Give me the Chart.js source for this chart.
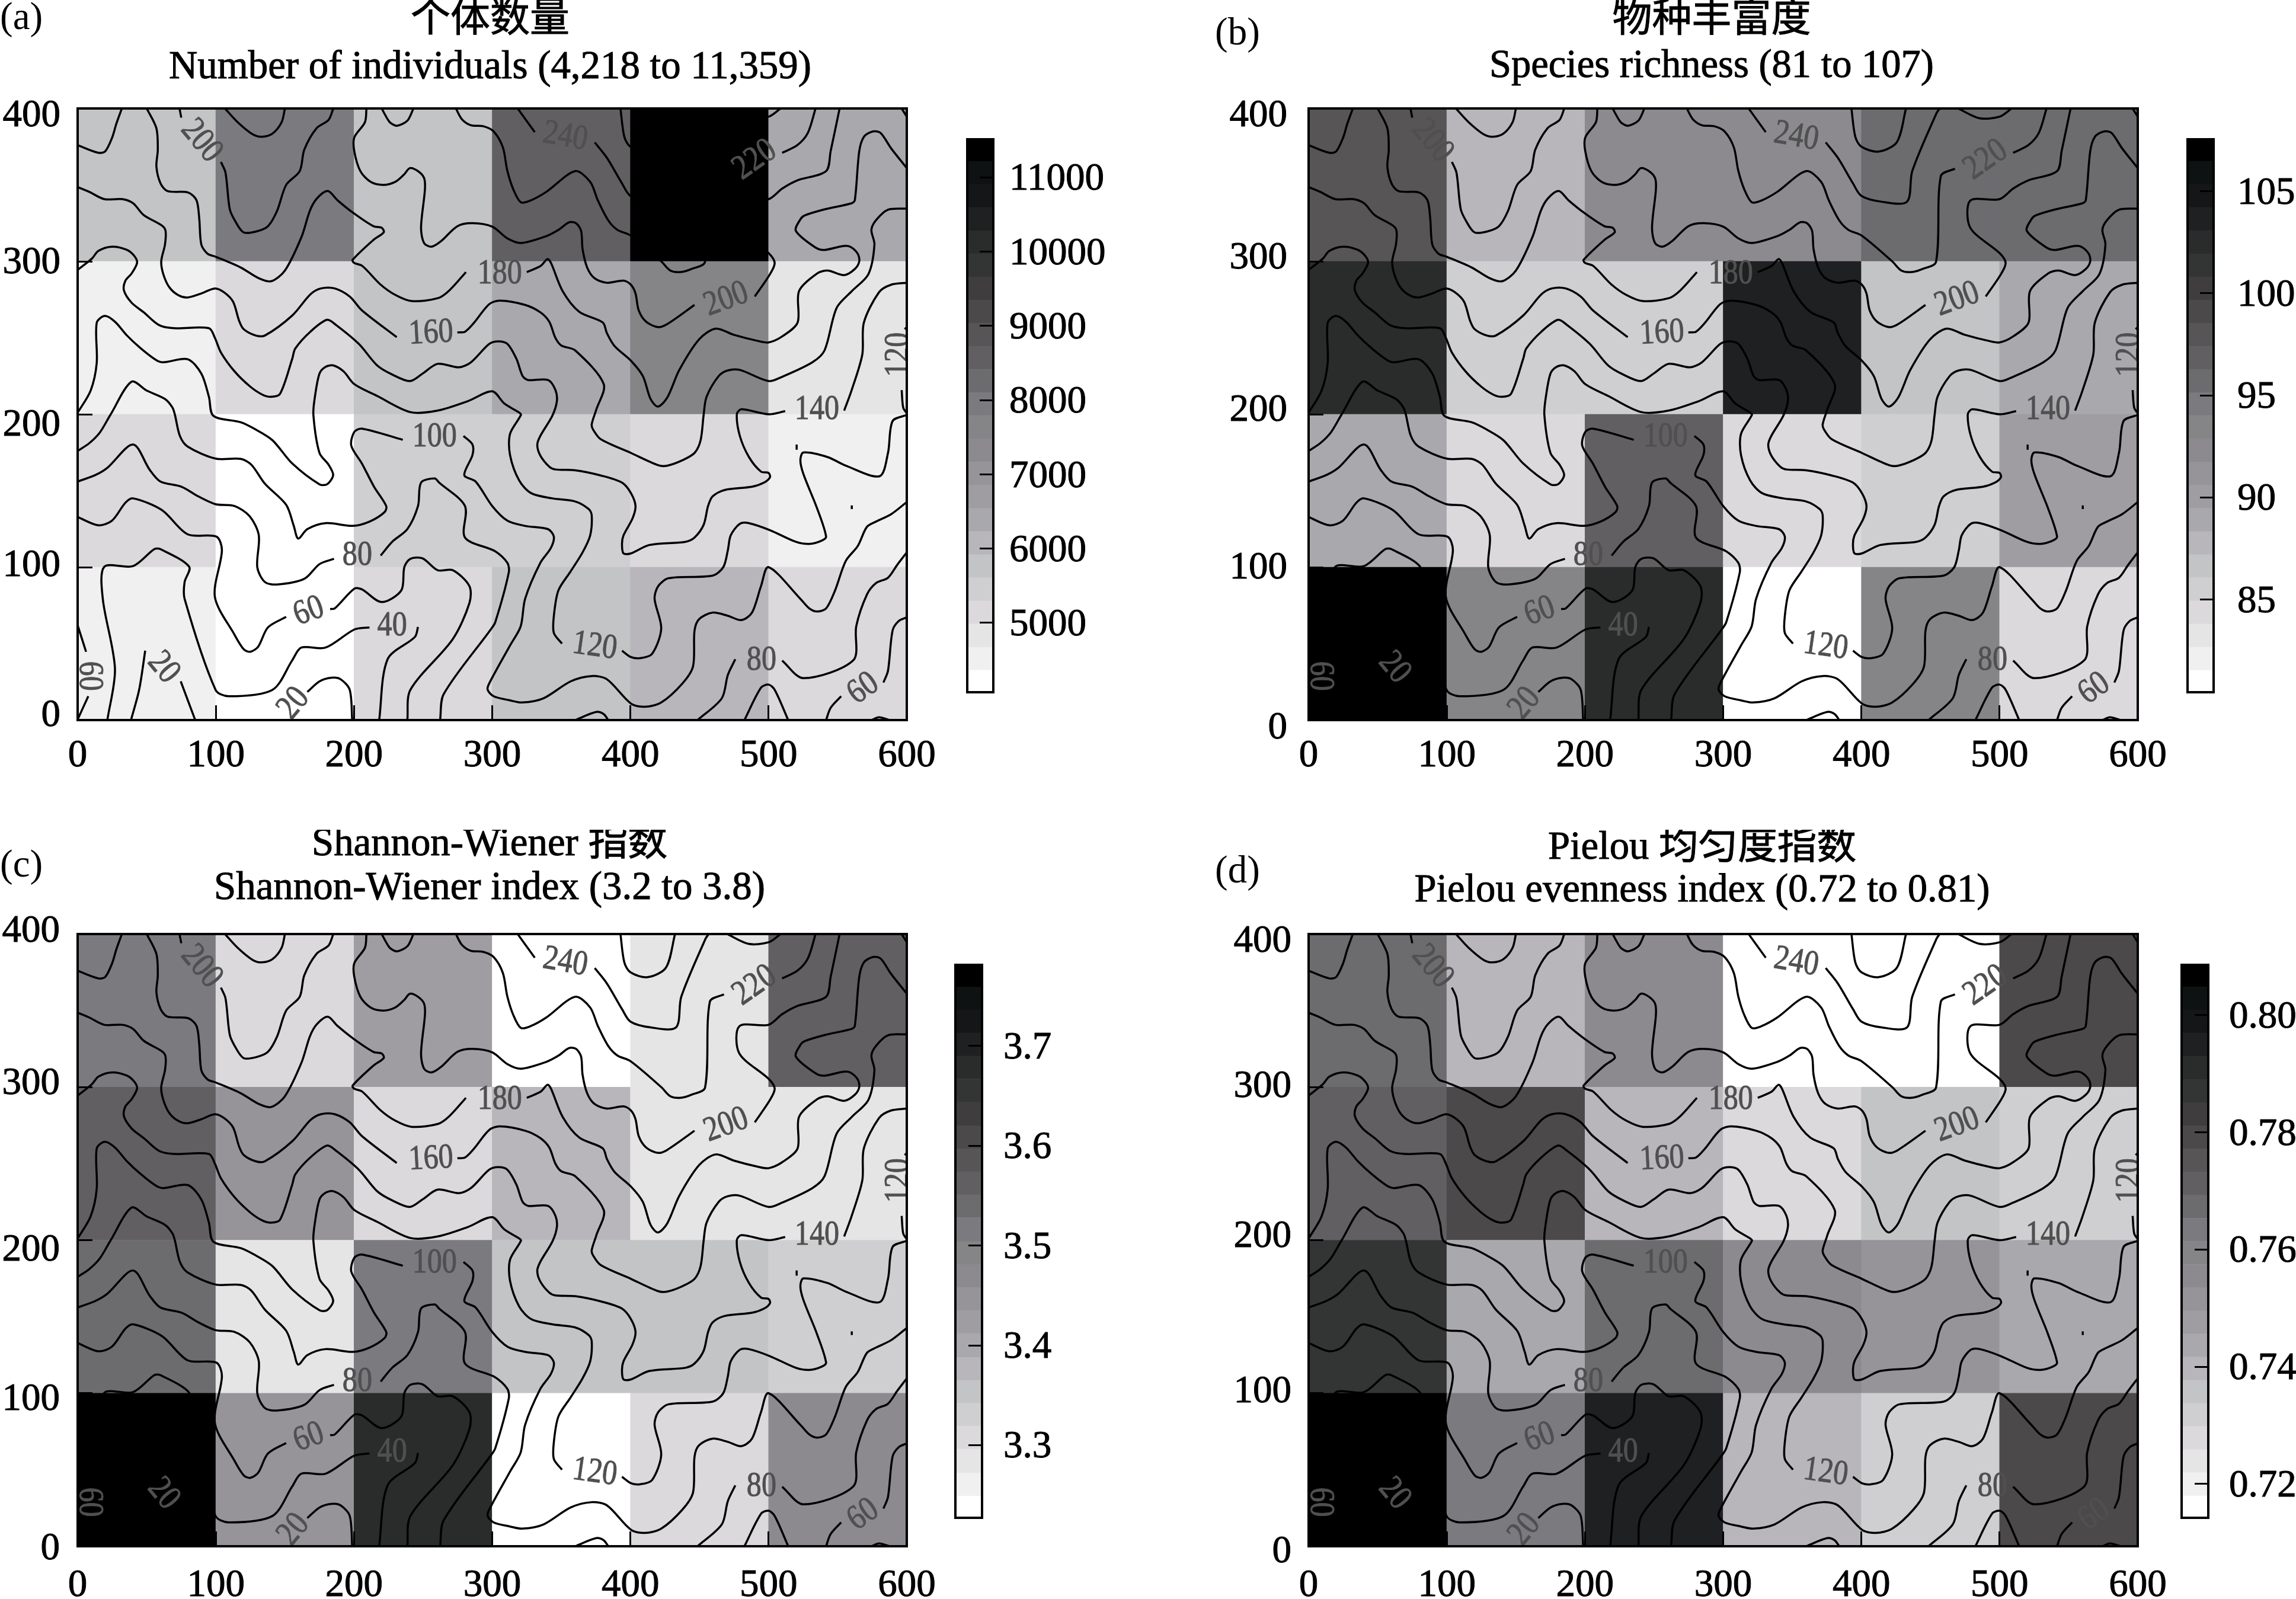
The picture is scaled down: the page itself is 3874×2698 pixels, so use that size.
<!DOCTYPE html>
<html>
<head>
<meta charset="utf-8">
<title>Quadrat diversity maps</title>
<script src="https://cdn.jsdelivr.net/npm/chart.js@4/dist/chart.umd.min.js"></script>
<style>
html, body { margin: 0; padding: 0; background: #fff; }
#page { position: relative; width: 3874px; height: 2698px; overflow: hidden; }
canvas { position: absolute; }
</style>
</head>
<body>
<div id="page"></div>
<script>
// axis ticks
const xTicks = [0, 100, 200, 300, 400, 500, 600];
const yTicks = [0, 100, 200, 300, 400];
const colCenters = [50, 150, 250, 350, 450, 550];
const rowCenters = [350, 250, 150, 50];

// quadrat values, rows top to bottom
const cellsA = [
  [5760, 7950, 5760, 8570, 11359, 6390],
  [4520, 5140, 5760, 6390, 7630, 4830],
  [5140, 4218, 5450, 5450, 5140, 4520],
  [4520, 4218, 5140, 5760, 6080, 5140]
];
const cellsB = [
  [98, 87.8, 92.3, 92.3, 95.7, 95.7],
  [102.5, 85.5, 85.5, 103.6, 86.6, 88.9],
  [88.9, 84.4, 96.8, 84.4, 85.5, 90],
  [107, 93.4, 102.5, 81, 93.4, 84.4]
];
const cellsC = [
  [3.516, 3.307, 3.423, 3.24, 3.284, 3.562],
  [3.562, 3.446, 3.307, 3.377, 3.284, 3.284],
  [3.539, 3.284, 3.516, 3.354, 3.354, 3.33],
  [3.771, 3.446, 3.678, 3.24, 3.307, 3.47]
];
const cellsD = [
  [0.7674, 0.7397, 0.7555, 0.716, 0.716, 0.7793],
  [0.7714, 0.7793, 0.7397, 0.7279, 0.7358, 0.7318],
  [0.7872, 0.7437, 0.7674, 0.7555, 0.7516, 0.7437],
  [0.8069, 0.7634, 0.7951, 0.7397, 0.7318, 0.7793]
];

// colour bar bands, light to dark
const bandGrays = ['#ffffff', '#f0f0f0', '#e6e5e6', '#dbd9dc', '#cfcfd1', '#c3c4c6', '#b8b6bb', '#a9a8ad',
  '#9f9da2', '#969499', '#8c8a8f', '#858487', '#7b7a7f', '#6c6b6e', '#625f62', '#575556',
  '#4b494a', '#3f3d3d', '#323534', '#2a2c2b', '#1e2021', '#151618', '#0e1212', '#000000'];
const edgesA = [4050, 4362, 4673, 4985, 5297, 5608, 5920, 6232, 6543, 6855, 7167, 7478, 7790, 8102, 8413, 8725, 9037, 9348, 9660, 9972, 10283, 10595, 10907, 11218, 11530];
const edgesB = [80.4, 81.53, 82.67, 83.8, 84.93, 86.07, 87.2, 88.33, 89.47, 90.6, 91.73, 92.87, 94, 95.13, 96.27, 97.4, 98.53, 99.67, 100.8, 101.93, 103.07, 104.2, 105.33, 106.47, 107.6];
const edgesC = [3.226, 3.249, 3.272, 3.296, 3.319, 3.342, 3.365, 3.388, 3.412, 3.435, 3.458, 3.481, 3.504, 3.528, 3.551, 3.574, 3.597, 3.62, 3.644, 3.667, 3.69, 3.713, 3.736, 3.759, 3.7825];
const edgesD = [0.714, 0.71795, 0.7219, 0.72585, 0.7298, 0.73375, 0.7377, 0.74165, 0.7456, 0.74955, 0.7535, 0.75745, 0.7614, 0.76535, 0.7693, 0.77325, 0.7772, 0.78115, 0.7851, 0.78905, 0.793, 0.79695, 0.8009, 0.80485, 0.8088];
const barTicksA = [5000, 6000, 7000, 8000, 9000, 10000, 11000];
const barTicksB = [85, 90, 95, 100, 105];
const barTicksC = [3.3, 3.4, 3.5, 3.6, 3.7];
const barTicksD = [0.72, 0.74, 0.76, 0.78, 0.80];
const barLabelsA = ['5000', '6000', '7000', '8000', '9000', '10000', '11000'];
const barLabelsB = ['85', '90', '95', '100', '105'];
const barLabelsC = ['3.3', '3.4', '3.5', '3.6', '3.7'];
const barLabelsD = ['0.72', '0.74', '0.76', '0.78', '0.80'];

// elevation contours as [x, y] in metres, one array per unbroken piece
const topLeft = [[0,376],[15,371],[20,372],[25,381],[28,390],[32,400]];
const c180a = [[50,400],[57,387],[58,373],[57,362],[60,351],[65,346],[80,345],[86,340],[88,328],[89.5,311],[94,305],[100,303],[118,296],[131,289],[140,287],[150,294],[162,316],[168,333],[173,341],[181,346],[188,340],[199,332],[214,323],[220,322],[221.5,319],[214,314],[199,301],[200,299],[206,297],[219,285],[230,278],[242,274],[261,276],[269,281],[281,293]];
const c180b = [[325,293],[335,297],[340,301.5],[342.5,299],[351,280.5],[363,267],[380,260],[383,253],[388.5,244.6],[400.4,235],[409,225],[414.6,210],[420,205],[426.7,211],[435.4,229],[449.7,249],[461.7,256],[474.8,252],[492,248],[500,247],[510,251],[521,260],[522,280.5],[535,292],[542.7,294],[554.7,291],[562.4,295],[565.6,300],[564.5,305],[559,309.6],[553.6,310],[540.5,307.5],[534,309],[519.7,320],[523,327.5],[526,330],[540.5,334],[560,338],[562.4,340],[565.6,372],[569,381.5],[575.5,385],[581,384],[588.6,374],[600,361]];
const c200topA = [[73.7,400],[75,394]];
const c200topB = [[103.7,365],[107,358],[110,334.5],[113.6,327],[120,319],[129,319.5],[137.7,323],[144.3,333],[150.9,350],[160.7,359],[164,373],[172.8,387],[181.6,392.5],[185,400]];
const c220top = [[106.6,400],[115.8,391],[126.8,383],[133.3,381.5],[141,383.6],[147.6,391],[150,400]];
const c200a = [[209,400],[207.9,391],[200.2,381],[200.2,372],[204.6,359],[212,352],[221,350],[229.8,352],[236.4,357],[240.4,361],[246.3,359],[250.7,354.5],[251.3,347],[248.5,322],[250.7,312],[256,309.6],[262.7,313],[274.8,323],[285.7,325],[300,322.7],[311,315],[320.8,312],[339.2,316.5],[348,320.6],[355.6,325.5],[360.6,325],[364.3,320],[365.4,308],[368.7,296],[374,289],[383,286],[395,287.4],[400.4,284.7],[403.7,279],[406,268],[411.4,260.5],[420,257],[426.7,259],[446.4,271.5]];
const c200b = [[490,277],[501,291.6],[504.4,299],[500,305.4],[478.8,322],[478.8,339.7],[500,340.7],[509.8,347.6],[520.8,353],[541.6,359],[544.9,372],[551.4,400]];
const c200c = [[273.7,400],[278,393],[284.6,389],[293.4,388.4],[301,385],[307.7,374.6],[310.9,359.4],[315.3,347],[320.8,338.6],[328.2,340],[339.2,345.5],[360,359],[370.9,352],[376.4,340],[384,326.8],[390.6,320.6],[400,317],[422.3,300],[428.9,294],[436.5,293],[444.2,295],[454,299.6],[457.5,355.8],[467.7,360.6]];
const c240a = [[318.4,400],[330.8,384.5]];
const c240b = [[374.2,377.8],[383,367.7],[393.9,351],[400,342.8],[414.6,339],[433,339],[436.8,359],[454.4,397],[456.7,400]];
const c220a = [[392.8,400],[395.6,381.5],[400,375],[412.4,371.8],[425.7,378],[432.3,400]];
const c220b = [[509.8,371],[520.8,376],[528.4,384],[534,400]];
const topRightA = [[470,400],[485.4,393.6],[500,394.6],[508.7,400]];
const topRightB = [[596.3,400],[600,394.6]];
const topBump = [[220,400],[224.3,393],[226.5,390.5],[231,388.7],[238.6,392],[243,400]];
const c140a = [[0,294.4],[10.5,302],[14.9,306.8],[24.8,309.6],[35.7,307.5],[41.2,303.3],[43,299],[39,292],[34.6,287.4],[33.5,281],[39,273],[47.8,266.7],[58.8,258.4],[69.7,256.3],[95,256.3],[99.3,250],[103.7,240.4],[113.6,228],[124.6,218.3],[133.3,213],[139.9,211.4],[146.5,213.4],[155.3,236.3],[157.5,243],[168.4,254],[180.5,261.8],[187,258.4],[203.5,246],[216.7,232],[227.6,226],[240.4,221.7],[249.6,226.6],[260.5,233],[275.9,230.7],[284.6,234],[297.8,246],[304.4,247.7],[311,246],[317.5,236.3],[322,225],[326,222.4],[340.3,222.4],[345.7,216],[346.8,208.6],[343.5,199],[334.8,185.8],[332.6,180],[334.8,173],[341.3,165.7],[345.7,163.9],[360,163.4],[378.5,160],[393.9,155.3],[400.4,148.4],[403.7,140],[401.5,131.8],[395,120.8],[393.9,115.2],[395,109],[400.4,109],[413.6,114.5],[439.8,116.6],[446.4,119.4],[453,127.7],[456.2,140],[459.5,146.3],[468.3,150.5],[488,152.6],[496.7,155.3],[501,158.8],[500,161.6],[494.5,162.5],[485.8,172],[479.2,185.8],[477,200],[480.3,203.3],[500,200],[512,202]];
const c140b = [[554.7,202.4],[560,215.5],[567.8,239],[568.9,259.8],[579.9,279.8],[588.6,284.7],[600,286]];
const c160a = [[0,348.6],[8.3,345.5],[19.3,340.7],[32.4,340.7],[40.1,338],[47.8,330.3],[61,323.4],[63.6,320],[63.2,311],[60.5,300],[62,291.6],[66.4,283],[73,277.8],[79.6,276.4],[89.5,279],[99.3,282.3],[105.9,279.8],[112.5,273.6],[116.9,261],[120.2,255.6],[128.9,251.5],[135.5,251.5],[155.3,264.6],[168.4,278.4],[176.1,282.3],[186,282.3],[196.9,277],[205.7,268],[230.9,250.4]];
const c160b = [[274.8,253.5],[280.3,254],[286.8,259.8],[297.8,272],[305.5,274.3],[323.8,271.5],[334.8,266.7],[341.3,260.5],[345.7,250],[350,245],[360,241.8],[380.7,219.7],[375.3,203],[372,193.4],[373,190],[378.5,183.7],[400.4,174.7],[420,166.7],[426.7,166.4],[437.6,169.9],[446.4,174.7],[450.8,183],[453,199.6],[455.1,211.4],[463.9,225],[470.5,228.7],[479.2,229],[500,221.7],[509.8,224.5],[531.7,234],[540.5,241.8],[549.2,269.5],[560.2,280.5],[572.2,291.6],[576.6,311],[574.4,320.6],[577.7,326.9],[586.4,333.8],[600,334.5]];
const c120a = [[0,201],[9.4,215.5],[13.8,233.5],[13.8,259.8],[19.7,264.3],[27,260.5],[35.7,251.5],[45.6,243.2],[56.6,235.6],[62,234],[79.6,236],[89.5,226.6],[95,211.4],[98.2,199],[117.9,194.8],[128.9,190],[141,183],[155.3,167.8],[175,154.2],[180.5,154.2],[184.9,160.2],[181.6,167],[175,174.7],[170.6,199.6],[171.7,211.4],[175,226.6],[179.4,231],[184.9,232],[192.5,228],[200.2,219.7],[216.7,212],[240.8,201.4],[260.5,202.4],[282.4,208.6],[300,215],[308.8,207],[319.7,201],[320.8,199.6],[312.9,187.2],[312.9,173.3],[319.5,156.7],[328.2,148.4],[343.5,145],[360,143],[369.8,138],[372,133.9],[370.9,120.8],[365.4,109.7],[356.7,97.2],[347.9,84.8],[344.6,68],[344.6,57],[350.5,50]];
const c120b = [[393.9,45.4],[400.4,41.2],[407,40.5],[415.7,43.3],[422.3,59.9],[417.5,79.3],[420.1,87.6],[427.8,92.8],[459.5,94.5],[467.2,100],[470.5,111],[472.6,120.8],[479.2,128.4],[485.8,128.8],[501,124.2],[519.7,116.6],[529.5,115.2],[538.3,117.3],[541.6,120],[535,138.7],[525.2,160.9],[523,169.9],[525.2,175],[542.7,172],[555.8,166.4],[580.3,159.5],[586.4,174.7],[589.7,195.5],[600,199.6]];
const c100a = [[0,176],[8.3,181],[16,188],[23.7,199.6],[39,221.3],[50,215.5],[63.2,210],[68.6,204.4],[70.4,199.6],[74,185.8],[79.6,178.9],[99.8,171],[118,170.8],[125.7,167],[135.5,154.6],[150.9,140.8],[156.4,127],[159.6,118.7],[166.2,124.9],[179.4,128.8],[199.1,127],[211.2,129.8],[222.1,136],[223.3,140],[214.5,152.6],[205.7,167.8],[198,179.5],[200.2,188.5],[205.7,190.6],[235.3,183.3]];
const c100b = [[279.2,185.8],[285.7,180.2],[285.7,173.3],[279.8,160.2],[288,156],[300,140],[311,130.4],[323.8,127],[340.3,124.9],[344.6,120],[342.4,112.5],[334.8,102.8],[323.8,79.3],[320.6,61.3],[312.9,48.8],[297.8,23.9],[296.7,19.8],[301,15.6],[312.9,12.9],[321.6,11.5],[337,14.2],[356.7,25.3],[372,28.8],[383,26.7],[400.4,10.8],[410.3,8.7],[422.3,11.5],[437.6,23.9],[445.3,35],[446.4,58.5],[449.7,66],[459.5,70.3],[470.5,68.2],[480.3,65.4],[488,70.3],[494.5,87.6],[500,100],[523,79.3],[529.5,73],[535,71],[541.6,73],[548.1,84.8],[555.8,104],[564.5,113.8],[571.1,126.3],[577.7,129.8],[588.6,134.6],[600,142.6]];
const c80a = [[0,156],[12.7,160.2],[21.5,165],[40.1,180.2],[52.2,163.6],[59.9,156],[75.2,152.6],[87.3,146.3],[99.8,141.2],[113.6,140],[124.6,133.2],[131.1,120.8],[130,100],[135.5,90.3],[144.3,88.7],[164,92.4],[175,102],[185.5,105.5]];
const c80b = [[219.3,107.6],[227.6,116.6],[238.6,124.9],[246.3,140],[248.5,155.3],[258.3,158],[261.6,155.3],[280.3,140],[280.3,119.4],[302.2,110.4],[311,102.8],[312,96.6],[302.2,64],[298.9,59.2],[264.9,17],[262.3,0]];
const c60a = [[0,132.8],[14.9,127.4],[24.8,130.4],[34.6,142.2],[40.1,145],[60.9,137.4],[79.6,121.5],[100.4,120],[104.4,111],[99.3,80.6],[113.6,55.7],[120.2,46.3],[125,44.7],[130.7,48.1],[137.7,60.6],[150.9,67.5]];
const c60b = [[182.7,72.6],[186,73],[200.2,85.9],[205.7,85.5],[219.9,77.2],[234.2,84.8],[236.4,100],[240.8,105.5],[249.6,105.8],[260.5,98],[271.5,98],[283.5,87.6],[283.5,76.5],[271.5,53],[240.8,19.8],[238.6,0]];
const c40a = [[21.5,0],[27,33.6],[18.2,79.3],[19.3,100.3],[40.1,100.7],[55.5,111.8],[59.9,111.8],[80.7,100.3],[77.4,90.3],[77.4,79.3],[99.8,19.8],[109.2,15.6],[141,19.8],[155.3,39.1],[161.8,47.4],[179.4,47.4],[200.2,59.2],[211.2,60.6]];
const c40b = [[246.3,60.9],[244.1,54.4],[224.3,39.8],[218.2,0]];
const c60leftA = [[0,62],[6.1,44.7]];
const c60leftB = [[7.7,15.6],[0,0.4]];
const c20a = [[48.9,45.4],[44.5,19.8],[38.6,0]];
const c20b = [[74.6,25.3],[85.1,0]];
const c20d = [[166.2,18.4],[175,25.3],[183.8,27.7],[190.3,26.7],[196.9,19.8],[198.7,0]];
const bottomBump = [[360,0],[375.3,5.3],[380.7,3.9],[384,0]];
const c80rightA = [[448.6,0],[466.1,14.2],[470.5,29.5],[475.9,39.8]];
const c80rightB = [[509.8,38.9],[525.2,27.4],[561.3,39.1],[563.4,61.3],[571.1,82],[577.7,89.6],[586.4,93.1],[593,101.4],[600,109.7]];
const peak500 = [[482.5,0],[494.5,21.2],[500,23.2],[504.4,19.8],[514.2,0]];
const c60rightA = [[541.6,0],[544.9,8],[552.5,15.6]];
const c60rightB = [[583.1,24.6],[586.4,32.2],[589.7,58.5],[594.1,64.7],[600,67.2]];
const bottomRight = [[574.4,0],[579.9,1.8],[587.5,0]];
const dot1 = [[520.3,180.2],[520.3,176.8]];
const dot2 = [[560.2,140.4],[560.2,138]];
const c120rightA = [[596.3,215.8],[597.4,204.4],[600,200.6]];
const c120rightB = [[598.5,255.6],[600,257]];
const contours = [topLeft, c180a, c180b, c200topA, c200topB, c220top, c200a, c200b, c200c, c240a, c240b, c220a, c220b,
  topRightA, topRightB, topBump, c140a, c140b, c160a, c160b, c120a, c120b, c100a, c100b, c80a, c80b, c60a, c60b,
  c40a, c40b, c60leftA, c60leftB, c20a, c20b, c20d, bottomBump, c80rightA, c80rightB, peak500, c60rightA,
  c60rightB, bottomRight, dot1, dot2, c120rightA, c120rightB];

// contour labels: text, x, y, angle
const contourLabels = [
  ['200', 89.5, 378.7, 50], ['180', 305.5, 291.6, 0], ['160', 255.7, 252.9, -3], ['240', 352.9, 381.5, 10],
  ['220', 490.1, 366.3, -35], ['200', 469.4, 275, -20], ['140', 535, 203, 0], ['120', 594, 239, -90],
  ['100', 258.3, 185, 0], ['80', 202.4, 107.6, 0], ['60', 167.3, 71, -20], ['40', 227.6, 61.3, 0],
  ['20', 62, 34.3, 50], ['60', 8.3, 28.8, 90], ['20', 156.4, 10.8, -50], ['120', 374.2, 48.1, 8],
  ['80', 494.9, 39.1, 0], ['60', 568.5, 20.5, -35]
];

const serif = '"Liberation Serif", "Noto Sans CJK SC"';
const page = document.getElementById('page');

function addCanvas(left, top, width, height) {
  const c = document.createElement('canvas');
  c.width = width;
  c.height = height;
  c.style.left = left + 'px';
  c.style.top = top + 'px';
  c.style.width = width + 'px';
  c.style.height = height + 'px';
  page.appendChild(c);
  return c;
}

function grayFor(value, edges) {
  let i = 0;
  while (i < bandGrays.length - 1 && value >= edges[i + 1]) i++;
  return bandGrays[i];
}

// axis boxes get a fixed size so the plot area lands where the figure has it
function fixAxis(s, key, size) {
  s[key] = size;
  s.paddingLeft = s.paddingRight = s.paddingTop = s.paddingBottom = 0;
}

const frame = {
  id: 'frame',
  afterDraw(chart, args, opts) {
    const a = chart.chartArea, ctx = chart.ctx;
    ctx.save();
    ctx.strokeStyle = '#000';
    ctx.lineWidth = 4;
    const ins = opts.inset || 0;
    ctx.strokeRect(a.left + ins, a.top + ins, a.right - a.left - 2 * ins, a.bottom - a.top - 2 * ins);
    ctx.restore();
  }
};

const contourText = {
  id: 'contourText',
  afterDatasetsDraw(chart) {
    const ctx = chart.ctx, a = chart.chartArea;
    ctx.save();
    ctx.beginPath();
    ctx.rect(a.left, a.top, a.right - a.left, a.bottom - a.top);
    ctx.clip();
    ctx.fillStyle = '#505050';
    ctx.strokeStyle = '#505050';
    ctx.lineWidth = 1;
    ctx.font = '59px ' + serif;
    ctx.textAlign = 'center';
    ctx.textBaseline = 'middle';
    contourLabels.forEach(l => {
      ctx.save();
      ctx.translate(chart.scales.x.getPixelForValue(l[1]), chart.scales.y.getPixelForValue(l[2]));
      ctx.rotate(l[3] * Math.PI / 180);
      ctx.scale(0.85, 1);
      ctx.fillText(l[0], 0, 0);
      ctx.strokeText(l[0], 0, 0);
      ctx.restore();
    });
    ctx.restore();
  }
};

const panelText = {
  id: 'panelText',
  afterDraw(chart, args, opts) {
    const ctx = chart.ctx;
    ctx.save();
    ctx.fillStyle = '#000';
    ctx.strokeStyle = '#000';
    ctx.lineWidth = 1;
    ctx.textBaseline = 'middle';
    ctx.textAlign = 'left';
    ctx.font = '65px ' + serif;
    ctx.fillText(opts.tag, opts.tagX, opts.tagY);
    ctx.textAlign = 'center';
    ctx.font = '67px ' + serif;
    opts.lines.forEach(l => {
      ctx.fillText(l[0], opts.titleX, l[1], l[2]);
      ctx.strokeText(l[0], opts.titleX, l[1], l[2]);
    });
    ctx.restore();
  }
};

// tick labels sit a little off their ticks in the figure
const nudgeLabels = {
  id: 'nudgeLabels',
  afterUpdate(chart, args, opts) {
    chart.scales.y.getLabelItems().forEach((it, i) => {
      it.options.translation[1] += opts.y ? opts.y[i] : opts.all;
    });
  }
};

const tickFont = { family: serif, size: 65 };

function drawPanel(p) {
  const L = p.left, T = p.top;
  const cells = [];
  const grays = [];
  p.cells.forEach((row, r) => row.forEach((v, c) => {
    cells.push({ x: colCenters[c], y: [rowCenters[r] - 50, rowCenters[r] + 50] });
    grays.push(grayFor(v, p.edges));
  }));
  const lines = contours.map(pts => ({
    type: 'line',
    data: pts.map(q => ({ x: q[0], y: q[1] })),
    borderColor: '#000',
    borderWidth: 3.5,
    pointRadius: 0,
    tension: 0.3,
    order: 1
  }));
  new Chart(addCanvas(L, T, p.width, p.height), {
    type: 'bar',
    data: {
      datasets: [{ data: cells, backgroundColor: grays, barPercentage: 1, categoryPercentage: 1, order: 2 }].concat(lines)
    },
    options: {
      responsive: false,
      animation: false,
      devicePixelRatio: 1,
      layout: {
        autoPadding: false,
        padding: { left: 0, top: p.plot[1] - T, right: L + p.width - p.plot[2], bottom: 0 }
      },
      scales: {
        x: {
          type: 'linear', min: 0, max: 600, offset: false,
          afterBuildTicks: s => { s.ticks = xTicks.map(v => ({ value: v })); },
          afterFit: s => fixAxis(s, 'height', T + p.height - p.plot[3]),
          ticks: { autoSkip: false, maxRotation: 0, padding: p.xPad, color: '#000', font: tickFont, textStrokeColor: '#000', textStrokeWidth: 1 },
          grid: { offset: false, drawOnChartArea: false, tickLength: -25, tickWidth: 3, tickColor: '#000', z: 1 },
          border: { display: false }
        },
        y: {
          type: 'linear', min: 0, max: 400,
          afterBuildTicks: s => { s.ticks = yTicks.map(v => ({ value: v })); },
          afterFit: s => fixAxis(s, 'width', p.plot[0] - L),
          ticks: { padding: p.yPad, color: '#000', font: tickFont, textStrokeColor: '#000', textStrokeWidth: 1 },
          grid: { drawOnChartArea: false, tickLength: -25, tickWidth: 3, tickColor: '#000', z: 1 },
          border: { display: false }
        }
      },
      plugins: {
        legend: { display: false },
        tooltip: { enabled: false },
        frame: {},
        nudgeLabels: { y: p.nudge },
        panelText: {
          tag: p.tag, tagX: p.tagAt[0] - L, tagY: p.tagAt[1] - T, titleX: p.titleX - L,
          lines: p.title.map(l => [l[0], l[1] - T, l[2]])
        }
      }
    },
    plugins: [frame, contourText, panelText, nudgeLabels]
  });
  drawColorBar(p);
}

function drawColorBar(p) {
  const b = p.bar;
  const L = b.area[0] - 30, T = b.area[1] - 30;
  const W = Math.min(300, 3874 - L), H = b.area[3] - b.area[1] + 60;
  const bands = bandGrays.map((g, i) => ({
    data: [[p.edges[i], p.edges[i + 1]]],
    backgroundColor: g,
    barPercentage: 1,
    categoryPercentage: 1,
    grouped: false
  }));
  new Chart(addCanvas(L, T, W, H), {
    type: 'bar',
    data: { labels: [''], datasets: bands },
    options: {
      responsive: false,
      animation: false,
      devicePixelRatio: 1,
      layout: {
        autoPadding: false,
        padding: { left: b.area[0] - L, top: b.area[1] - T, right: 0, bottom: T + H - b.area[3] }
      },
      scales: {
        x: { display: false },
        y: {
          type: 'linear', position: 'right', min: p.edges[0], max: p.edges[24],
          afterBuildTicks: s => { s.ticks = b.ticks.map(v => ({ value: v })); },
          afterFit: s => fixAxis(s, 'width', L + W - b.area[2]),
          ticks: { padding: b.pad, color: '#000', font: tickFont, textStrokeColor: '#000', textStrokeWidth: 1, callback: (v, i) => b.labels[i] },
          grid: { drawOnChartArea: false, tickLength: -25, tickWidth: 3, tickColor: '#000', z: 1 },
          border: { display: false }
        }
      },
      plugins: { legend: { display: false }, tooltip: { enabled: false }, frame: { inset: 2 }, nudgeLabels: { all: 4 } }
    },
    plugins: [frame, nudgeLabels]
  });
}

drawPanel({
  left: 0, top: 0, width: 1610, height: 1349, plot: [131, 183, 1530, 1215], cells: cellsA, edges: edgesA,
  xPad: 47, yPad: 54, nudge: [-7, -2, 19, 3, 13],
  tag: '(a)', tagAt: [0, 32], titleX: 827,
  title: [['个体数量', 35, 270], ['Number of individuals (4,218 to 11,359)', 114, 1084]],
  bar: { area: [1630, 233, 1678, 1170], ticks: barTicksA, labels: barLabelsA, pad: 50 }
});
drawPanel({
  left: 2040, top: 0, width: 1640, height: 1349, plot: [2208, 183, 3607, 1215], cells: cellsB, edges: edgesB,
  xPad: 47, yPad: 61, nudge: [14, 2, -6, -5, 13],
  tag: '(b)', tagAt: [2050, 58], titleX: 2888,
  title: [['物种丰富度', 35, 335], ['Species richness (81 to 107)', 112, 750]],
  bar: { area: [3689, 233, 3737, 1170], ticks: barTicksB, labels: barLabelsB, pad: 63 }
});
drawPanel({
  left: 0, top: 1400, width: 1600, height: 1298, plot: [131, 1576, 1530, 2609], cells: cellsC, edges: edgesC,
  xPad: 53, yPad: 55, nudge: [5, 11, 17, -5, -4],
  tag: '(c)', tagAt: [0, 1462], titleX: 826,
  title: [['Shannon-Wiener 指数', 1425, 600], ['Shannon-Wiener index (3.2 to 3.8)', 1499, 930]],
  bar: { area: [1610, 1626, 1659, 2563], ticks: barTicksC, labels: barLabelsC, pad: 59 }
});
drawPanel({
  left: 2040, top: 1400, width: 1630, height: 1298, plot: [2208, 1576, 3607, 2609], cells: cellsD, edges: edgesD,
  xPad: 53, yPad: 54, nudge: [10, -2, -6, 0, 13],
  tag: '(d)', tagAt: [2050, 1472], titleX: 2872,
  title: [['Pielou 均匀度指数', 1431, 520], ['Pielou evenness index (0.72 to 0.81)', 1503, 971]],
  bar: { area: [3679, 1626, 3728, 2563], ticks: barTicksD, labels: barLabelsD, pad: 58 }
});
</script>
</body>
</html>
